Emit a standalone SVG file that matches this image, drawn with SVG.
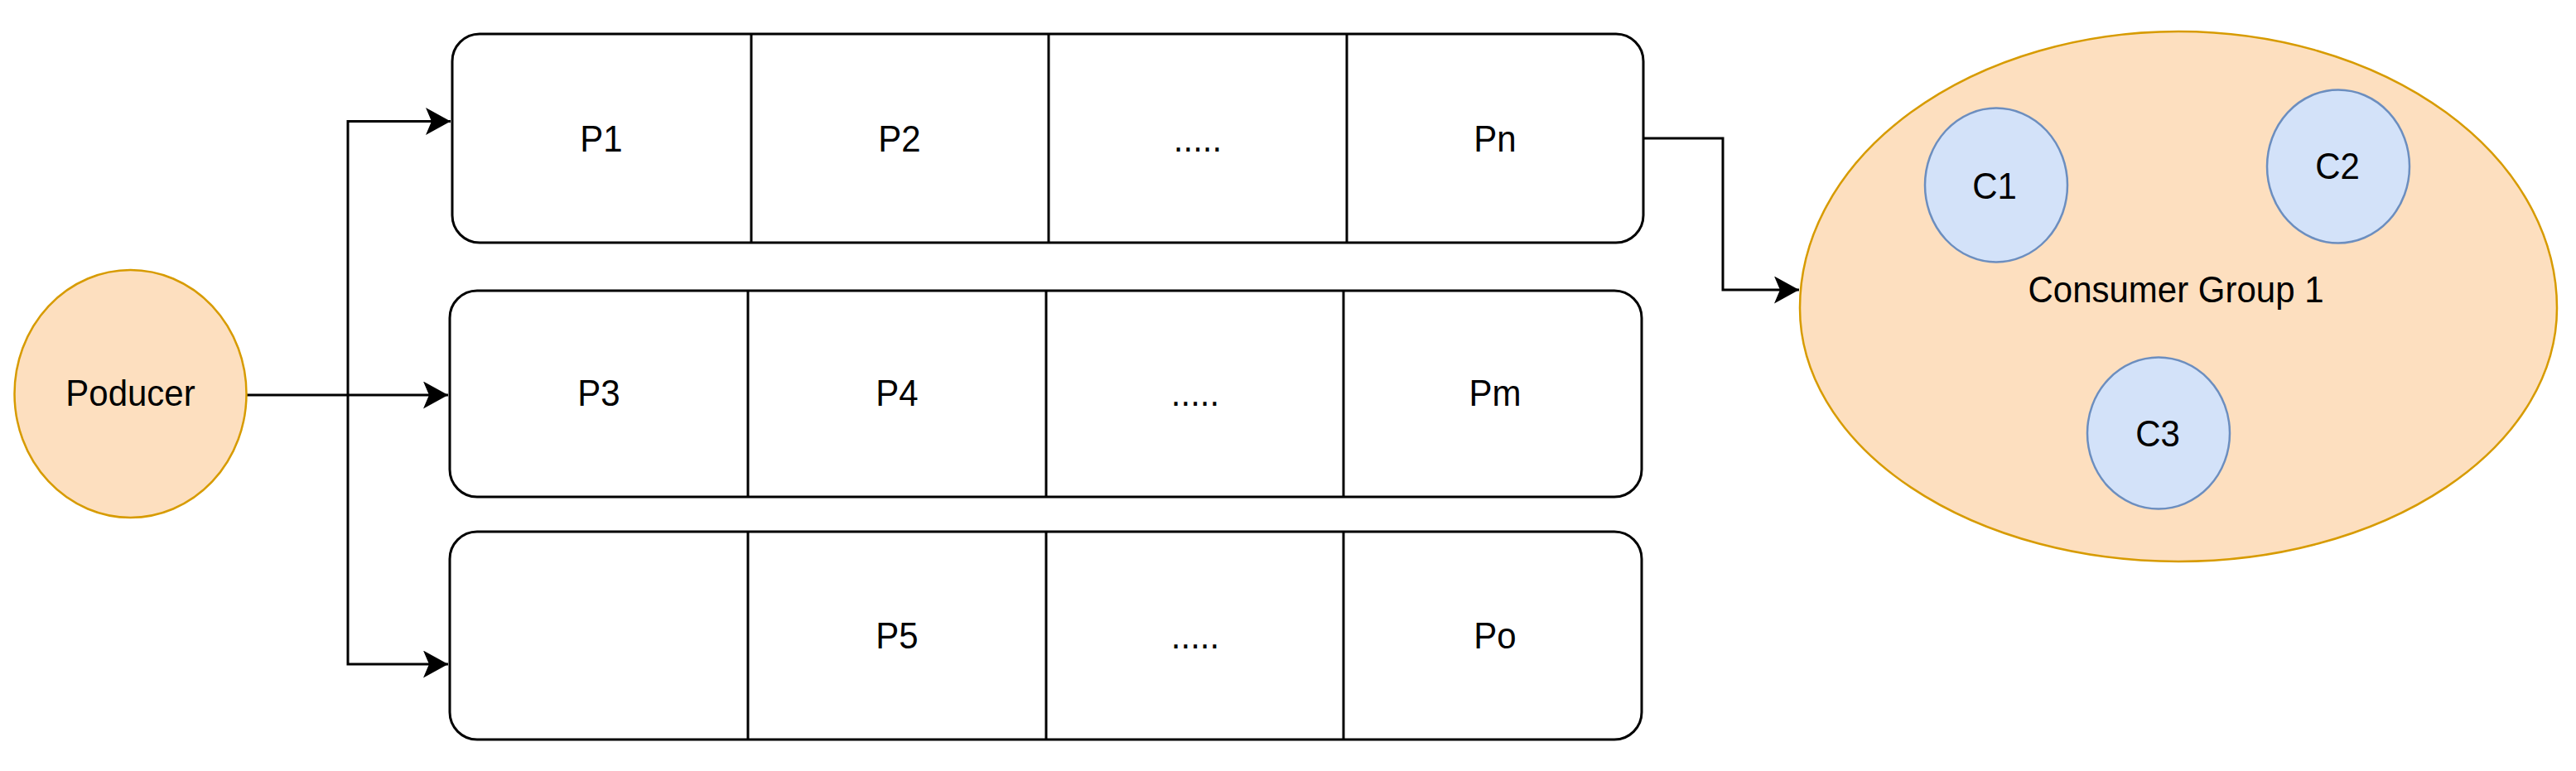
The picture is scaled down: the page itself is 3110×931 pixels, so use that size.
<svg xmlns="http://www.w3.org/2000/svg" width="3110" height="931" viewBox="0 0 3110 931">
<defs>
<style>
.lbl{font-family:"Liberation Sans",Arial,Helvetica,sans-serif;font-size:42px;fill:#000;text-anchor:middle}
.box{fill:#fff;stroke:#000;stroke-width:3}
.div{stroke:#000;stroke-width:3}
.org{fill:#fddfbf;stroke:#d79b00;stroke-width:2.5}
.blu{fill:#d3e2f9;stroke:#6c8ebf;stroke-width:2.5}
.con{fill:none;stroke:#000;stroke-width:3}
</style>
<marker id="arr" markerUnits="userSpaceOnUse" markerWidth="32" markerHeight="34" refX="30" refY="16.5" orient="auto" viewBox="0 0 32 34">
<path d="M0,0 L30,16.5 L0,33 L7,16.5 Z" fill="#000"/>
</marker>
</defs>
<rect width="3110" height="931" fill="#fff"/>

<g id="connectors">
<path class="con" d="M298,477 H541" marker-end="url(#arr)"/>
<path class="con" d="M420,477 V146.5 H544" marker-end="url(#arr)"/>
<path class="con" d="M420,477 V802 H541" marker-end="url(#arr)"/>
<path class="con" d="M1984,167 H2080 V350 H2172" marker-end="url(#arr)"/>
</g>

<g id="producer">
<ellipse class="org" cx="157.5" cy="475.5" rx="140" ry="149.5"/>
<text class="lbl" transform="translate(157.5,490) scale(1,1.07)">Poducer</text>
</g>

<g id="partitions-1">
<rect class="box" x="546" y="41" width="1438" height="252" rx="33" ry="33"/>
<line class="div" x1="907" y1="41" x2="907" y2="293"/>
<line class="div" x1="1266" y1="41" x2="1266" y2="293"/>
<line class="div" x1="1626" y1="41" x2="1626" y2="293"/>
<text class="lbl" transform="translate(726,183) scale(1,1.07)">P1</text>
<text class="lbl" transform="translate(1086,183) scale(1,1.07)">P2</text>
<text class="lbl" transform="translate(1446,183) scale(1,1.07)">.....</text>
<text class="lbl" transform="translate(1805,183) scale(1,1.07)">Pn</text>
</g>

<g id="partitions-2">
<rect class="box" x="543" y="351" width="1439" height="249" rx="33" ry="33"/>
<line class="div" x1="903" y1="351" x2="903" y2="600"/>
<line class="div" x1="1263" y1="351" x2="1263" y2="600"/>
<line class="div" x1="1622" y1="351" x2="1622" y2="600"/>
<text class="lbl" transform="translate(723,490) scale(1,1.07)">P3</text>
<text class="lbl" transform="translate(1083,490) scale(1,1.07)">P4</text>
<text class="lbl" transform="translate(1443,490) scale(1,1.07)">.....</text>
<text class="lbl" transform="translate(1805,490) scale(1,1.07)">Pm</text>
</g>

<g id="partitions-3">
<rect class="box" x="543" y="642" width="1439" height="251" rx="33" ry="33"/>
<line class="div" x1="903" y1="642" x2="903" y2="893"/>
<line class="div" x1="1263" y1="642" x2="1263" y2="893"/>
<line class="div" x1="1622" y1="642" x2="1622" y2="893"/>
<text class="lbl" transform="translate(1083,783) scale(1,1.07)">P5</text>
<text class="lbl" transform="translate(1443,783) scale(1,1.07)">.....</text>
<text class="lbl" transform="translate(1805,783) scale(1,1.07)">Po</text>
</g>

<g id="consumer-group-1">
<path class="org" d="M2173,372 A457,334 0 0 1 3087,372 A457,306 0 0 1 2173,372 Z"/>
<text class="lbl" transform="translate(2627,365) scale(1,1.07)">Consumer Group 1</text>
</g>

<g id="c1">
<ellipse class="blu" cx="2410" cy="223.5" rx="86" ry="93"/>
<text class="lbl" transform="translate(2408,240) scale(1,1.07)">C1</text>
</g>

<g id="c2">
<ellipse class="blu" cx="2823" cy="201" rx="86" ry="92.5"/>
<text class="lbl" transform="translate(2822,216) scale(1,1.07)">C2</text>
</g>

<g id="c3">
<ellipse class="blu" cx="2606" cy="523" rx="86" ry="91.5"/>
<text class="lbl" transform="translate(2605,539) scale(1,1.07)">C3</text>
</g>
</svg>
